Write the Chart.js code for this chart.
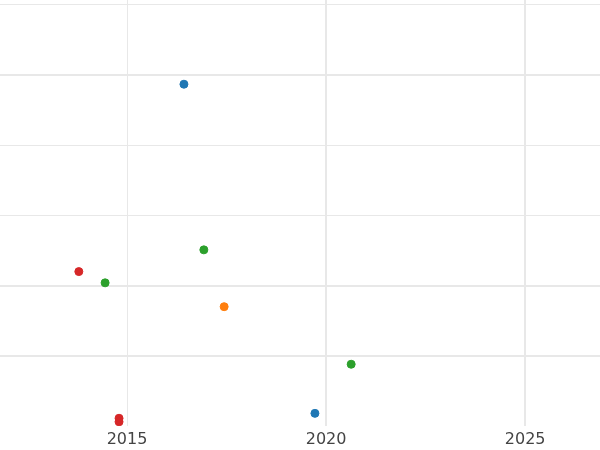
<!DOCTYPE html>
<html><head><script src="https://cdn.jsdelivr.net/npm/chart.js@4"></script>
<style>body{margin:0}#w{width:600px;height:450px}</style></head>
<body><div id="w"><canvas id="c"></canvas></div>
<script>
const blueX=[2016.43,2019.72], blueY=[4.87,0.18];
const orangeX=[2017.44], orangeY=[1.70];
const greenX=[2016.93,2014.45,2020.63], greenY=[2.51,2.04,0.88];
const redX=[2013.79,2014.80,2014.80], redY=[2.20,0.11,0.06];
const xTicks=[2015,2020,2025];
const yTicks=[1,2,3,4,5,6];
const pts=(xs,ys)=>xs.map((x,i)=>({x,y:ys[i]}));
const ds=(xs,ys,c)=>({data:pts(xs,ys),backgroundColor:c,borderColor:c,pointRadius:4,pointHoverRadius:4});
new Chart(document.getElementById('c'),{type:'scatter',
data:{datasets:[ds(blueX,blueY,'#1f77b4'),ds(orangeX,orangeY,'#ff7f0e'),ds(greenX,greenY,'#2ca02c'),ds(redX,redY,'#d62728')]},
options:{responsive:true,maintainAspectRatio:false,animation:false,
layout:{padding:0,autoPadding:false},
plugins:{legend:{display:false},tooltip:{enabled:false}},
scales:{
x:{type:'linear',min:2011.81,max:2026.88,
afterBuildTicks:a=>{a.ticks=xTicks.map(v=>({value:v}));},
afterFit:a=>{a.height=24;},
grid:{color:'#e8e8e8',lineWidth:c=>c.tick&&c.tick.value===2015?1:2,drawTicks:false},border:{display:false},
ticks:{color:'#444',font:{family:'DejaVu Sans',size:16},padding:4,callback:v=>String(v)}},
y:{min:0,max:6.07,afterBuildTicks:a=>{a.ticks=yTicks.map(v=>({value:v}));},
afterFit:a=>{a.width=0;},
grid:{color:'#e8e8e8',lineWidth:c=>c.tick&&[1,2,5].includes(c.tick.value)?2:1,drawTicks:false},border:{display:false},
ticks:{display:false}}
}}});
</script></body></html>
